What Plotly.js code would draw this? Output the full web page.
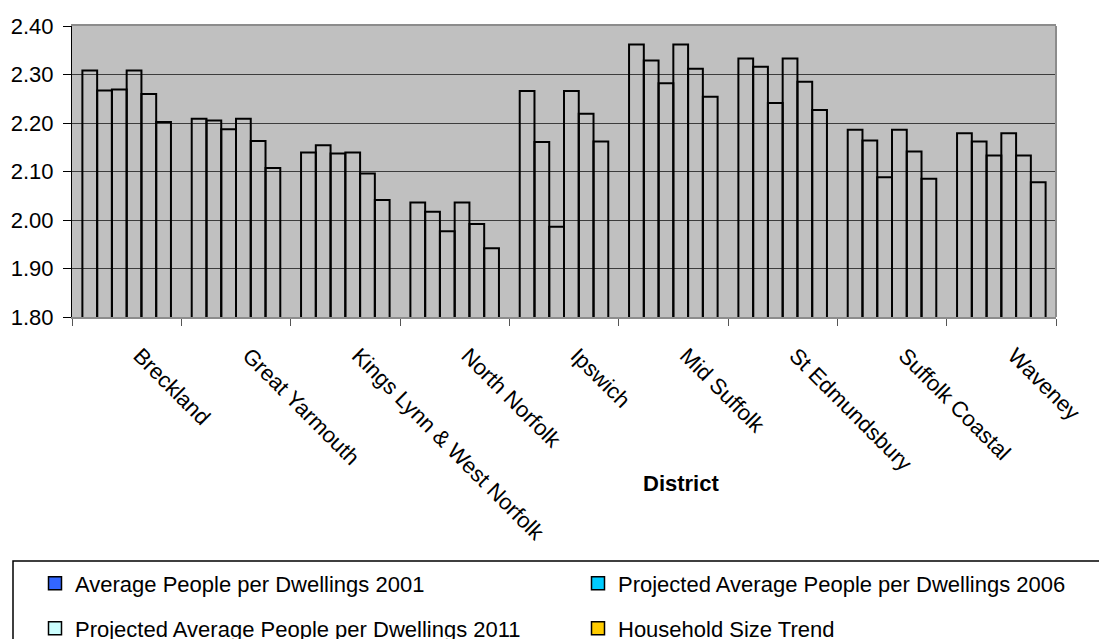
<!DOCTYPE html>
<html>
<head>
<meta charset="utf-8">
<script src="https://cdn.plot.ly/plotly-3.0.1.min.js"></script>
<style>
  html, body { margin: 0; padding: 0; background: #ffffff; }
  #chart { width: 1099px; height: 639px; }
</style>
</head>
<body>
<div id="chart"></div>
<script>
// Districts along the category axis
const districts = [
  'Breckland', 'Great Yarmouth', 'Kings Lynn & West Norfolk', 'North Norfolk',
  'Ipswich', 'Mid Suffolk', 'St Edmundsbury', 'Suffolk Coastal', 'Waveney'
];

// Average people per dwelling, six values per district
const avg2001     = [2.308, 2.209, 2.139, 2.036, 2.266, 2.362, 2.333, 2.186, 2.179];
const proj2006    = [2.267, 2.205, 2.154, 2.017, 2.161, 2.329, 2.316, 2.164, 2.162];
const proj2011    = [2.269, 2.187, 2.137, 1.977, 1.986, 2.282, 2.241, 2.088, 2.133];
const trend2001   = [2.308, 2.209, 2.139, 2.036, 2.266, 2.362, 2.333, 2.186, 2.179];
const trend2006   = [2.260, 2.163, 2.096, 1.992, 2.219, 2.312, 2.285, 2.141, 2.133];
const trend2011   = [2.202, 2.107, 2.041, 1.942, 2.162, 2.254, 2.227, 2.085, 2.078];

const barSeries = [
  { name: 'Average People per Dwellings 2001', y: avg2001 },
  { name: 'Projected Average People per Dwellings 2006', y: proj2006 },
  { name: 'Projected Average People per Dwellings 2011', y: proj2011 },
  { name: 'Household Size Trend 2001', y: trend2001 },
  { name: 'Household Size Trend 2006', y: trend2006 },
  { name: 'Household Size Trend 2011', y: trend2011 }
];

// Legend entries and their swatch colours
const legendNames  = [
  'Average People per Dwellings 2001',
  'Projected Average People per Dwellings 2006',
  'Projected Average People per Dwellings 2011',
  'Household Size Trend'
];
const legendColors = ['#3366FF', '#00CCFF', '#CCFFFF', '#FFCC00'];
const legendSlots  = ['legend', 'legend2', 'legend3', 'legend4'];

const FONT = 'Liberation Sans, Arial, sans-serif';

// plot-area geometry in pixels, used to place the legend and frame
const W = 1099, H = 639;
const M = { l: 72, r: 43, t: 26, b: 322 };
const plotW = W - M.l - M.r;
const plotH = H - M.t - M.b;
const px2x = p => (p - M.l) / plotW;
const py2y = p => (H - M.b - p) / plotH;

const traces = barSeries.map(s => ({
  type: 'bar',
  name: s.name,
  x: districts,
  y: s.y,
  showlegend: false,
  marker: { color: 'rgba(0,0,0,0)', line: { color: '#000000', width: 2 } },
  hoverinfo: 'x+y+name'
}));

legendNames.forEach((n, i) => {
  traces.push({
    type: 'scatter',
    mode: 'markers',
    name: n,
    x: [null],
    y: [null],
    legend: legendSlots[i],
    marker: { symbol: 'square', size: 13, color: legendColors[i], line: { color: '#000000', width: 1.5 } },
    hoverinfo: 'skip'
  });
});

function legendAt(xp, yp) {
  return {
    orientation: 'h',
    xanchor: 'left',
    yanchor: 'middle',
    x: px2x(xp),
    y: py2y(yp),
    bgcolor: 'rgba(0,0,0,0)',
    borderwidth: 0,
    itemclick: false,
    itemdoubleclick: false,
    font: { family: FONT, size: 22, color: '#000000' }
  };
}

const layout = {
  width: W,
  height: H,
  margin: { l: M.l, r: M.r, t: M.t, b: M.b, autoexpand: false },
  paper_bgcolor: '#ffffff',
  plot_bgcolor: '#C0C0C0',
  barmode: 'group',
  bargap: 0.19,
  bargroupgap: 0,
  font: { family: FONT, size: 22, color: '#000000' },
  xaxis: {
    type: 'category',
    tickson: 'boundaries',
    ticks: 'outside',
    ticklen: 7,
    tickcolor: '#555555',
    tickwidth: 1,
    tickangle: 45,
    ticklabelstandoff: 15,
    ticklabelshift: 13,
    showgrid: false,
    showline: true,
    linecolor: '#8c8c8c',
    linewidth: 2,
    mirror: true,
    tickfont: { family: FONT, size: 22, color: '#000000' },
    fixedrange: true
  },
  yaxis: {
    range: [1.8, 2.4],
    dtick: 0.1,
    tick0: 1.8,
    tickformat: '.2f',
    ticks: 'outside',
    ticklen: 8,
    tickcolor: '#000000',
    ticklabelstandoff: 5,
    showline: true,
    linecolor: '#000000',
    linewidth: 1,
    showgrid: true,
    gridcolor: '#3c3c3c',
    gridwidth: 1,
    zeroline: false,
    tickfont: { family: FONT, size: 22, color: '#000000' },
    fixedrange: true
  },
  legend:  legendAt(35, 583.5),
  legend2: legendAt(578, 583.5),
  legend3: legendAt(35, 628.5),
  legend4: legendAt(578, 628.5),
  annotations: [{
    text: '<b>District</b>',
    xref: 'paper', yref: 'paper',
    x: px2x(681), y: py2y(483),
    xanchor: 'center', yanchor: 'middle',
    showarrow: false,
    font: { family: FONT, size: 22, color: '#000000' }
  }],
  shapes: [
    // right edge of the plot frame
    { type: 'line', xref: 'paper', yref: 'paper', x0: 1, x1: 1, y0: 0, y1: 1,
      line: { color: '#8c8c8c', width: 2 } },
    // legend frame
    { type: 'rect', xref: 'paper', yref: 'paper',
      x0: px2x(13), x1: px2x(1120), y0: py2y(561), y1: py2y(660),
      line: { color: '#000000', width: 1.5 }, fillcolor: 'rgba(0,0,0,0)', layer: 'above' }
  ]
};

Plotly.newPlot('chart', traces, layout, { displayModeBar: false, staticPlot: true });
</script>
</body>
</html>
